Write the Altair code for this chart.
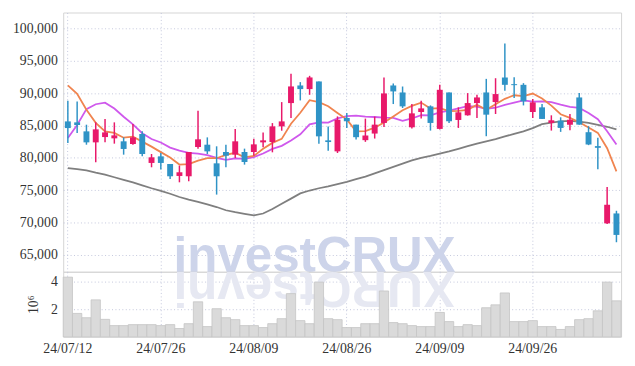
import altair as alt
import pandas as pd

dates = ["24/07/12","24/07/15","24/07/16","24/07/17","24/07/18","24/07/19","24/07/22","24/07/23","24/07/24","24/07/25",
         "24/07/26","24/07/29","24/07/30","24/07/31","24/08/01","24/08/02","24/08/05","24/08/06","24/08/07","24/08/08",
         "24/08/09","24/08/12","24/08/13","24/08/14","24/08/16","24/08/19","24/08/20","24/08/21","24/08/22","24/08/23",
         "24/08/26","24/08/27","24/08/28","24/08/29","24/08/30","24/09/02","24/09/03","24/09/04","24/09/05","24/09/06",
         "24/09/09","24/09/10","24/09/11","24/09/12","24/09/13","24/09/19","24/09/20","24/09/23","24/09/24","24/09/25",
         "24/09/26","24/09/27","24/09/30","24/10/02","24/10/04","24/10/07","24/10/08","24/10/10","24/10/11","24/10/14"]

opens = [85630,85480,84090,82390,83210,83010,82550,82140,83680,79210,
         80230,79050,77200,77150,81670,82030,79150,80900,80490,80900,
         80900,82390,82440,84860,88460,91180,90620,91800,82700,81000,
         86160,85130,82730,83750,85390,91180,90100,84720,87080,87950,
         84470,90100,85850,86570,88460,90100,88620,92410,91380,91280,
         87080,87800,85390,85750,85130,89330,83960,81810,69880,71410]
highs = [88800,88700,85120,85480,85990,85480,83160,85220,84090,80590,
         80750,79050,78800,80900,87280,83160,81780,82030,84450,81420,
         82960,83930,85370,88610,92980,91700,92670,91800,84860,86400,
         86930,85130,86060,86370,92410,91490,91020,88310,88820,88100,
         91280,90100,87800,90000,89740,92200,92300,97680,92460,91540,
         89080,88310,86570,86260,86770,90000,84880,83090,75510,71820]
lows = [82300,83830,82030,79310,82390,82190,80490,82030,80230,78540,
        78180,76740,76220,76380,81420,80590,74320,78540,79980,78950,
        80330,81620,80850,84190,86140,88870,89740,82190,81110,80750,
        84620,82830,82470,82980,84770,88310,87700,84520,86060,84210,
        84360,85390,84620,86520,86160,83340,86770,90360,89230,88100,
        86160,86010,84210,84010,84260,85130,81960,78220,69780,66960]
closes = [84600,85070,82390,84400,83930,83470,81370,83160,80590,80080,
          79210,77150,77770,80900,82860,81000,77150,80330,82550,79360,
          82080,82700,84860,85630,91030,90620,92420,83320,82440,85890,
          85650,83190,83450,85130,89950,90260,87950,86870,87640,85390,
          90510,85650,87030,88460,89330,86670,89850,91280,91230,88720,
          88570,86010,85800,84620,85900,85130,82060,81550,72750,68090]
ma5 = [91200,89900,87430,85400,84080,83850,83110,83270,82500,81730,
       80880,80040,78960,79020,79580,79940,79940,80450,80780,80080,
       80290,81400,82310,82930,85260,86970,88910,88600,87970,86940,
       85940,84100,84120,84660,85470,86400,87350,88030,88530,87620,
       87670,87210,87240,87410,88200,87430,88270,89120,89670,89550,
       89930,89160,88070,86740,86180,85490,84700,83850,81480,77920]
ma10 = [83050,85080,87520,88280,88520,87610,86350,85180,83810,82910,
        82370,81580,81110,80760,80660,80410,79990,79700,79900,79830,
        80120,80670,81380,81850,82670,83630,85160,85460,85450,86100,
        86460,86510,86360,86310,86210,86170,85720,86080,86600,86550,
        87030,87280,87640,87970,87910,87550,87740,88180,88540,88870,
        88680,88720,88590,88210,87870,87710,86930,85960,84110,82050]
ma60 = [78400,78250,78050,77700,77400,77000,76600,76200,75750,75300,
        74900,74450,73950,73550,73200,72800,72400,71900,71600,71350,
        71100,71400,72100,72900,73700,74500,74950,75300,75600,75950,
        76300,76700,77100,77600,78100,78600,79100,79600,80000,80300,
        80650,81000,81400,81800,82200,82550,82900,83300,83700,84100,
        84600,85200,85450,85650,85700,85600,85400,85100,84800,84400]
volume_m = [4.31,1.69,1.38,2.67,1.26,0.81,0.81,0.88,0.88,0.88,
            0.81,0.88,0.60,0.95,2.53,0.74,2.03,1.38,1.24,0.81,
            0.81,0.67,0.95,1.31,3.12,1.17,0.95,3.95,1.31,1.24,
            0.67,0.67,0.95,0.95,3.31,1.03,0.95,0.81,0.74,0.74,
            1.76,1.10,0.74,0.88,0.81,2.10,2.31,3.17,1.10,1.10,
            1.17,0.74,0.74,0.53,0.74,1.24,1.31,1.88,3.95,2.60]
x_labels = ["24/07/12", "24/07/26", "24/08/09", "24/08/26", "24/09/09", "24/09/26"]
price_ticks = [65000, 70000, 75000, 80000, 85000, 90000, 95000, 100000]
vol_ticks = [2, 4]

df = pd.DataFrame({
    "date": dates, "open": opens, "high": highs, "low": lows, "close": closes,
    "ma5": ma5, "ma10": ma10, "ma60": ma60, "vol": volume_m,
})
df["dir"] = ["up" if c >= o else "down" for o, c in zip(opens, closes)]

FONT = "Liberation Sans Narrow"
FS = 14
RED = "#e8196a"
BLUE = "#2f93c6"
GRID = "#c3c7dc"
W = 566

yaxis = alt.Axis(values=price_ticks, format=",d", title=None, ticks=False, domain=False,
                 labelPadding=6, labelFont=FONT, labelFontSize=FS, labelColor="#333333",
                 labelOverlap=False)

xscale = alt.Scale(type="band", paddingInner=0, paddingOuter=0)
x_top = alt.X("date:O", sort=None, scale=xscale,
              axis=alt.Axis(values=x_labels, labels=False, ticks=False, domain=False,
                            title=None, grid=True, bandPosition=0.5, minExtent=0, maxExtent=0))
x_bot = alt.X("date:O", sort=None, scale=xscale,
              axis=alt.Axis(values=x_labels, labels=True, ticks=False, domain=False,
                            title=None, grid=True, bandPosition=0.5, labelAngle=0,
                            labelPadding=5, labelFont=FONT, labelFontSize=FS,
                            labelColor="#333333", labelOverlap=False))
yscale = alt.Scale(domain=[62400, 102450], nice=False, zero=False)
color = alt.Color("dir:N", scale=alt.Scale(domain=["up", "down"], range=[RED, BLUE]), legend=None)

base = alt.Chart(df)

wm = alt.Chart(pd.DataFrame({"t": ["investCRUX"]})).mark_text(
    font="Liberation Sans", fontWeight="bold", fontSize=50, color="#cdd4ea",
    align="center", baseline="alphabetic"
).encode(x=alt.value(255), y=alt.value(263), text="t:N")

ma60_line = base.mark_line(color="#7f7f7f", strokeWidth=1.8).encode(
    x=x_top, y=alt.Y("ma60:Q", scale=yscale, axis=yaxis))
ma10_line = base.mark_line(color="#cf58ec", strokeWidth=1.8).encode(
    x=x_top, y=alt.Y("ma10:Q", scale=yscale, axis=yaxis))
ma5_line = base.mark_line(color="#f0844f", strokeWidth=1.8).encode(
    x=x_top, y=alt.Y("ma5:Q", scale=yscale, axis=yaxis))
wick = base.mark_rule(strokeWidth=1.5).encode(
    x=x_top, y=alt.Y("low:Q", scale=yscale, axis=yaxis), y2="high:Q", color=color)
body = base.mark_bar(size=6).encode(
    x=x_top, y=alt.Y("open:Q", scale=yscale, axis=yaxis), y2="close:Q", color=color)

price = alt.layer(wm, ma60_line, ma10_line, ma5_line, wick, body).properties(width=W, height=263)

refl = alt.Chart(pd.DataFrame({"t": ["XURCtsevni"]})).mark_text(
    font="Liberation Sans", fontWeight="bold", fontSize=50, color="#e6e8f2",
    align="center", baseline="alphabetic", angle=180
).encode(x=alt.value(255), y=alt.value(0), text="t:N")

vol_bars = base.mark_bar(fill="#dadada", stroke="#c4c4c4", strokeWidth=0.8).encode(
    x=x_bot,
    y=alt.Y("vol:Q", scale=alt.Scale(domain=[0, 4.7], nice=False),
            axis=alt.Axis(values=vol_ticks, format="d", title="10⁶", ticks=False, domain=False,
                          labelPadding=6, labelFont=FONT, labelFontSize=FS, labelColor="#333333",
                          titleFont=FONT, titleFontSize=14, titleFontWeight="normal",
                          titleColor="#333333", titlePadding=10, labelOverlap=False)))

vol = alt.layer(refl, vol_bars).properties(width=W, height=66)

chart = alt.VConcatChart(
    vconcat=[price, vol], spacing=0, bounds="flush",
    padding={"left": 4, "top": 1, "right": 5, "bottom": 5},
).configure_view(stroke="#d4d4d4").configure_axis(
    gridColor=GRID, gridDash=[1, 2.5], gridWidth=1, labelOverlap=False
)

chart.save("out.html", embed_options={"renderer": "svg", "actions": False})
